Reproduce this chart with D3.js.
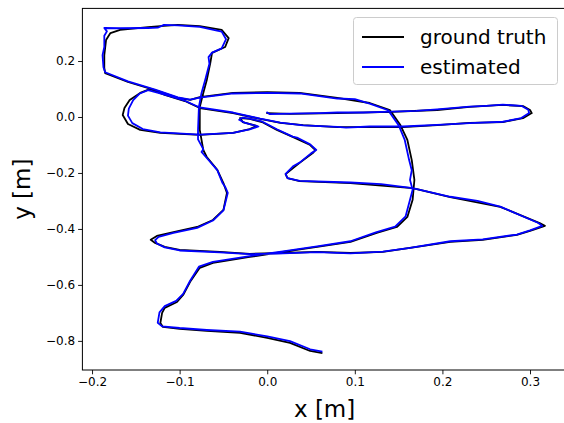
<!DOCTYPE html>
<html>
<head>
<meta charset="utf-8">
<script src="https://cdn.jsdelivr.net/npm/d3@7"></script>
<style>
	body { margin: 0; background: #fff; }
	svg { display: block; font-family: "DejaVu Sans", sans-serif; }
</style>
</head>
<body>
<svg id="chart" width="564" height="423"></svg>
<script>
// trajectory samples [x, y] in metres
const groundTruth = [
	[0.000, 0.014], [0.026, 0.011], [0.080, 0.014], [0.142, 0.018], [0.194, 0.025], [0.231, 0.036],
	[0.269, 0.043], [0.292, 0.039], [0.300, 0.025], [0.302, 0.014], [0.292, -0.004], [0.269, -0.018],
	[0.231, -0.021], [0.194, -0.029], [0.155, -0.036], [0.117, -0.036], [0.080, -0.036], [0.041, -0.029],
	[0.015, -0.021], [-0.008, -0.007], [-0.039, 0.014], [-0.077, 0.032], [-0.094, 0.057], [-0.117, 0.079],
	[-0.134, 0.100], [-0.145, 0.086], [-0.157, 0.061], [-0.163, 0.032], [-0.165, 0.007], [-0.159, -0.025],
	[-0.145, -0.046], [-0.122, -0.057], [-0.077, -0.064], [-0.039, -0.057], [-0.020, -0.043], [-0.012, -0.032],
	[-0.028, -0.018], [-0.031, -0.004], [-0.020, -0.007], [-0.006, -0.018], [0.011, -0.046], [0.029, -0.071],
	[0.049, -0.100], [0.055, -0.118], [0.052, -0.129], [0.037, -0.164], [0.021, -0.204], [0.023, -0.218],
	[0.037, -0.229], [0.095, -0.236], [0.166, -0.254], [0.209, -0.286], [0.266, -0.321], [0.311, -0.379],
	[0.317, -0.389], [0.300, -0.407], [0.285, -0.421], [0.246, -0.439], [0.209, -0.446], [0.163, -0.468],
	[0.132, -0.482], [0.095, -0.486], [0.057, -0.482], [0.018, -0.486], [-0.020, -0.489], [-0.054, -0.482],
	[-0.100, -0.475], [-0.117, -0.464], [-0.128, -0.450], [-0.133, -0.439], [-0.126, -0.425], [-0.107, -0.411],
	[-0.080, -0.393], [-0.062, -0.368], [-0.050, -0.332], [-0.046, -0.271], [-0.050, -0.236], [-0.057, -0.189],
	[-0.069, -0.143], [-0.073, -0.118], [-0.077, -0.046], [-0.077, 0.036], [-0.073, 0.086], [-0.069, 0.132],
	[-0.065, 0.193], [-0.063, 0.229], [-0.048, 0.250], [-0.044, 0.282], [-0.052, 0.311], [-0.077, 0.325],
	[-0.102, 0.329], [-0.122, 0.325], [-0.136, 0.321], [-0.168, 0.311], [-0.179, 0.300], [-0.184, 0.275],
	[-0.186, 0.221], [-0.186, 0.175], [-0.185, 0.157], [-0.159, 0.125], [-0.128, 0.096], [-0.102, 0.068],
	[-0.088, 0.061], [-0.077, 0.071], [-0.039, 0.086], [0.000, 0.089], [0.037, 0.086], [0.080, 0.068],
	[0.117, 0.050], [0.140, 0.025], [0.152, -0.029], [0.160, -0.082], [0.165, -0.154], [0.168, -0.225],
	[0.166, -0.296], [0.160, -0.357], [0.148, -0.393], [0.125, -0.414], [0.095, -0.446], [0.057, -0.464],
	[0.018, -0.482], [-0.020, -0.500], [-0.062, -0.521], [-0.077, -0.539], [-0.088, -0.589], [-0.096, -0.636],
	[-0.103, -0.661], [-0.117, -0.682], [-0.120, -0.700], [-0.122, -0.736], [-0.119, -0.750], [-0.100, -0.757],
	[-0.069, -0.764], [-0.031, -0.771], [0.000, -0.789], [0.026, -0.807], [0.049, -0.836], [0.062, -0.843]
];

const estimated = [
	[0.000, 0.016], [0.003, 0.010], [0.026, 0.012], [0.060, 0.014], [0.080, 0.016], [0.110, 0.016],
	[0.142, 0.019], [0.170, 0.022], [0.194, 0.027], [0.231, 0.037], [0.250, 0.040], [0.269, 0.044],
	[0.290, 0.040], [0.298, 0.026], [0.299, 0.014], [0.290, -0.004], [0.269, -0.017], [0.231, -0.022],
	[0.200, -0.027], [0.155, -0.034], [0.117, -0.034], [0.090, -0.038], [0.080, -0.035], [0.041, -0.030],
	[0.015, -0.020], [-0.008, -0.006], [-0.039, 0.016], [-0.077, 0.034], [-0.094, 0.058], [-0.117, 0.080],
	[-0.136, 0.096], [-0.146, 0.083], [-0.153, 0.060], [-0.158, 0.030], [-0.159, 0.005], [-0.154, -0.022],
	[-0.142, -0.043], [-0.122, -0.055], [-0.077, -0.063], [-0.039, -0.057], [-0.020, -0.044], [-0.010, -0.034],
	[-0.026, -0.020], [-0.032, -0.010], [-0.028, -0.002], [-0.020, -0.006], [-0.006, -0.016], [0.011, -0.044],
	[0.029, -0.070], [0.035, -0.075], [0.049, -0.098], [0.056, -0.118], [0.050, -0.130], [0.037, -0.163],
	[0.030, -0.175], [0.021, -0.203], [0.023, -0.218], [0.037, -0.228], [0.095, -0.234], [0.130, -0.240],
	[0.166, -0.254], [0.209, -0.285], [0.240, -0.300], [0.266, -0.320], [0.309, -0.378], [0.314, -0.389],
	[0.300, -0.405], [0.285, -0.420], [0.246, -0.437], [0.209, -0.444], [0.163, -0.468], [0.132, -0.481],
	[0.095, -0.487], [0.057, -0.483], [0.018, -0.487], [-0.020, -0.490], [-0.054, -0.484], [-0.100, -0.477],
	[-0.117, -0.466], [-0.126, -0.452], [-0.128, -0.440], [-0.124, -0.428], [-0.107, -0.414], [-0.080, -0.396],
	[-0.062, -0.370], [-0.050, -0.334], [-0.045, -0.271], [-0.048, -0.250], [-0.051, -0.236], [-0.057, -0.190],
	[-0.068, -0.150], [-0.075, -0.125], [-0.073, -0.115], [-0.079, -0.080], [-0.079, -0.046], [-0.078, 0.036],
	[-0.075, 0.086], [-0.071, 0.130], [-0.066, 0.190], [-0.067, 0.214], [-0.063, 0.230], [-0.052, 0.245],
	[-0.047, 0.278], [-0.052, 0.305], [-0.077, 0.322], [-0.102, 0.327], [-0.118, 0.329], [-0.125, 0.319],
	[-0.136, 0.318], [-0.168, 0.317], [-0.186, 0.318], [-0.183, 0.306], [-0.186, 0.290], [-0.186, 0.250],
	[-0.188, 0.221], [-0.187, 0.178], [-0.185, 0.160], [-0.159, 0.127], [-0.128, 0.098], [-0.102, 0.070],
	[-0.088, 0.062], [-0.077, 0.069], [-0.039, 0.084], [0.000, 0.086], [0.037, 0.084], [0.080, 0.066],
	[0.100, 0.064], [0.117, 0.048], [0.138, 0.024], [0.150, -0.029], [0.157, -0.082], [0.162, -0.154],
	[0.165, -0.190], [0.163, -0.225], [0.166, -0.260], [0.163, -0.296], [0.158, -0.355], [0.146, -0.392],
	[0.124, -0.412], [0.095, -0.444], [0.057, -0.462], [0.018, -0.480], [-0.020, -0.497], [-0.062, -0.518],
	[-0.078, -0.535], [-0.088, -0.585], [-0.096, -0.632], [-0.104, -0.657], [-0.117, -0.676], [-0.123, -0.698],
	[-0.125, -0.735], [-0.120, -0.748], [-0.100, -0.754], [-0.069, -0.761], [-0.031, -0.767], [0.000, -0.784],
	[0.026, -0.801], [0.049, -0.830], [0.062, -0.838]
];

const xTicks = [-0.2, -0.1, 0.0, 0.1, 0.2, 0.3];
const yTicks = [-0.8, -0.6, -0.4, -0.2, 0.0, 0.2];
const xDomain = [-0.211, 0.342];
const yDomain = [-0.904, 0.388];

const seriesNames = ["ground truth", "estimated"];
const seriesColors = ["#000000", "#0000ff"];

const svg = d3.select("#chart");
const box = { left: 82.4, right: 566.8, top: 8.4, bottom: 370 };

const x = d3.scaleLinear().domain(xDomain).range([box.left, box.right]);
const y = d3.scaleLinear().domain(yDomain).range([box.bottom, box.top]);
const fmt = d3.format(".1f");

svg.append("clipPath").attr("id", "plot-clip")
	.append("rect")
	.attr("x", box.left).attr("y", box.top)
	.attr("width", box.right - box.left).attr("height", box.bottom - box.top);

const line = d3.line().x((d) => x(d[0])).y((d) => y(d[1]));

const lines = svg.append("g").attr("clip-path", "url(#plot-clip)");
[groundTruth, estimated].forEach((pts, i) => {
	lines.append("path")
		.datum(pts)
		.attr("fill", "none")
		.attr("stroke", seriesColors[i])
		.attr("stroke-width", 1.8)
		.attr("stroke-linejoin", "round")
		.attr("stroke-linecap", "square")
		.attr("d", line);
});

// axes
const xAxis = svg.append("g")
	.attr("transform", `translate(0,${box.bottom})`)
	.call(d3.axisBottom(x).tickValues(xTicks).tickFormat(fmt).tickSize(4.3).tickPadding(3));
const yAxis = svg.append("g")
	.attr("transform", `translate(${box.left},0)`)
	.call(d3.axisLeft(y).tickValues(yTicks).tickFormat(fmt).tickSize(4.3).tickPadding(3));

[xAxis, yAxis].forEach((g) => {
	g.select(".domain").remove();
	g.selectAll("line").attr("stroke", "#000").attr("stroke-width", 0.9);
	g.selectAll("text")
		.attr("fill", "#000")
		.style("font-family", "'DejaVu Sans', sans-serif")
		.style("font-size", "12px");
});

svg.append("rect")
	.attr("x", box.left).attr("y", box.top)
	.attr("width", box.right - box.left).attr("height", box.bottom - box.top)
	.attr("fill", "none")
	.attr("stroke", "#000")
	.attr("stroke-width", 1);

svg.append("text")
	.attr("x", (box.left + box.right) / 2)
	.attr("y", 417)
	.attr("text-anchor", "middle")
	.style("font-size", "23px")
	.text("x [m]");

svg.append("text")
	.attr("transform", `translate(30,${(box.top + box.bottom) / 2}) rotate(-90)`)
	.attr("text-anchor", "middle")
	.style("font-size", "23px")
	.text("y [m]");

// legend
const legend = svg.append("g");
legend.append("rect")
	.attr("x", 353.5).attr("y", 17.5)
	.attr("width", 204).attr("height", 67)
	.attr("rx", 3)
	.attr("fill", "#fff").attr("fill-opacity", 0.8)
	.attr("stroke", "#ccc");

seriesNames.forEach((name, i) => {
	const cy = 37 + i * 30;
	legend.append("line")
		.attr("x1", 362).attr("x2", 404)
		.attr("y1", cy).attr("y2", cy)
		.attr("stroke", seriesColors[i])
		.attr("stroke-width", 1.8);
	legend.append("text")
		.attr("x", 420).attr("y", cy)
		.attr("dy", "0.35em")
		.style("font-size", "20px")
		.text(name);
});
</script>
</body>
</html>
